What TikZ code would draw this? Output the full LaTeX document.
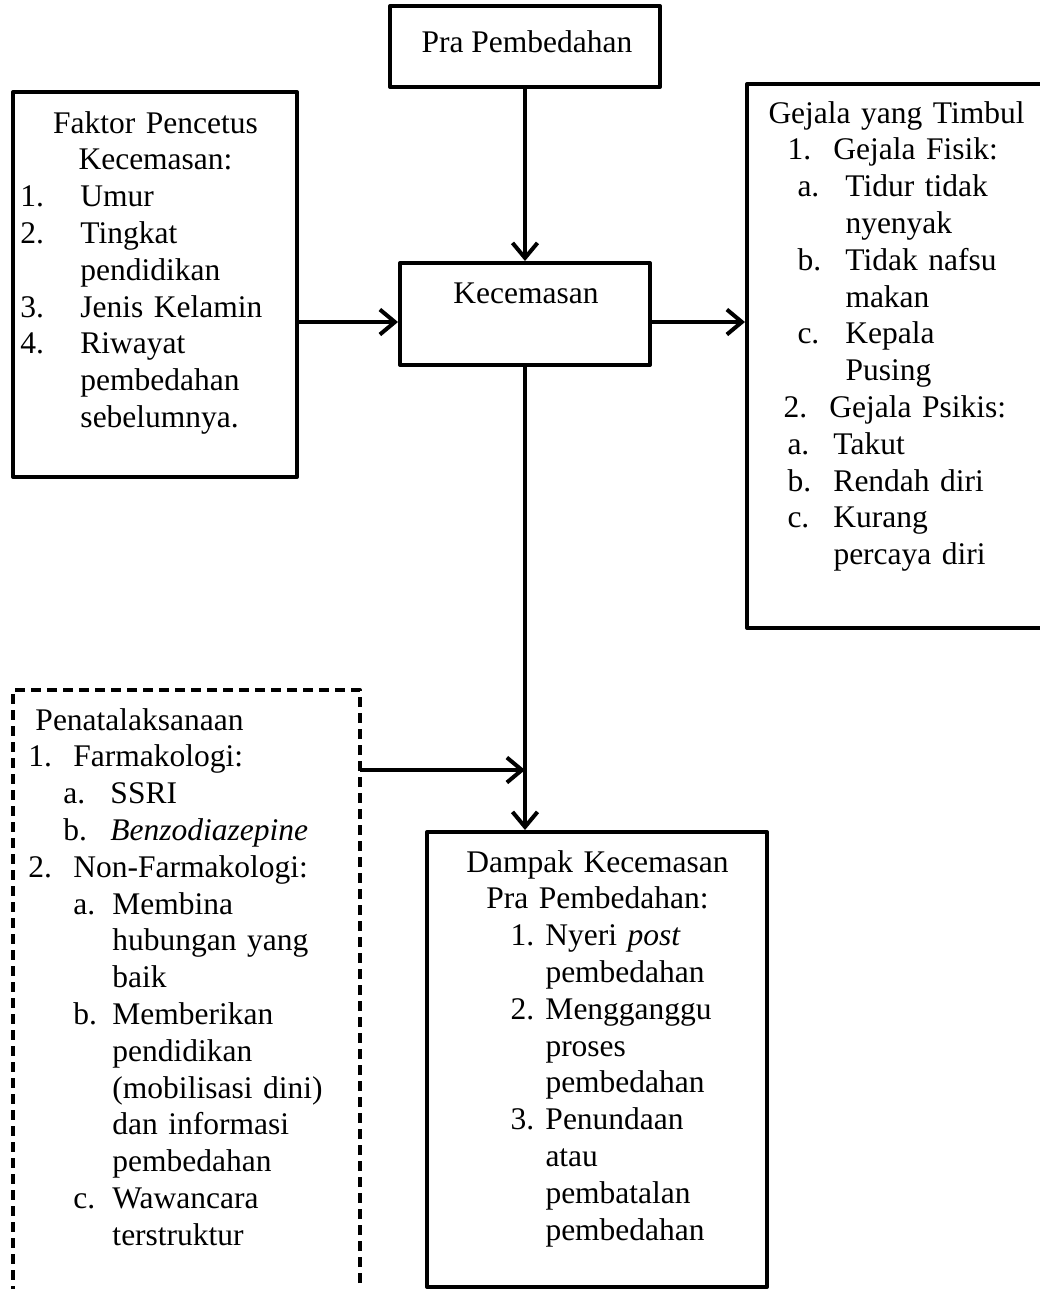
\documentclass[tikz,border=0pt]{standalone}
\usepackage{fontspec}
\setmainfont{Liberation Serif}
\usetikzlibrary{arrows.meta,positioning,fit,calc}
\newlength\pxu
\setlength\pxu{0.4pt}
% label at offset #1, label box #2 wide, then the text
\newcommand{\itm}[4]{\hspace*{#1\pxu}\makebox[#2\pxu][l]{#3}#4}
\newcommand{\cnt}[2]{\makebox[#1\pxu]{#2}}
\begin{document}
\begin{tikzpicture}[x=0.4pt,y=-0.4pt,line join=round,
	>={Straight Barb[length=6pt,width=10pt]},
	font=\fontsize{12.6pt}{14.72pt}\selectfont,
	box/.style={draw,line width=1.6pt,inner sep=0pt},
	dashbox/.style={draw,line width=1.6pt,dash pattern=on 4pt off 2.4pt,inner sep=0pt},
	txt/.style={inner sep=0pt,anchor=base west,align=left,text width=#1},
	arr/.style={->,line width=1.6pt}]
	\useasboundingbox (0,0) rectangle (1040,1289);
	\clip (0,0) rectangle (1040,1289);
	% boxes
	\node[box,fit={(390,6)(660,87)}] (pra) {};
	\node[box,fit={(13,92)(297,477)}] (faktor) {};
	\node[box,fit={(400,263)(650,365)}] (kec) {};
	\node[box,fit={(747,84)(1070,628)}] (gejala) {};
	\node[dashbox,fit={(13,690)(360,1320)}] (pen) {};
	\node[box,fit={(427,832)(767,1287)}] (dampak) {};
	% texts
	\node[inner sep=0pt,anchor=base] (praText) at (527,52) {Pra Pembedahan};
	\node[inner sep=0pt,anchor=base] (kecText) at (526,303) {Kecemasan};
	\node[txt=124pt] (faktorText) at (20,133) {%
		\cnt{270}{Faktor Pencetus}\\
		\cnt{270}{Kecemasan:}\\
		\itm{0}{60}{1.}{Umur}\\
		\itm{0}{60}{2.}{Tingkat}\\
		\itm{60}{0}{}{pendidikan}\\
		\itm{0}{60}{3.}{Jenis Kelamin}\\
		\itm{0}{60}{4.}{Riwayat}\\
		\itm{60}{0}{}{pembedahan}\\
		\itm{60}{0}{}{sebelumnya.}};
	\node[txt=124pt] (gejalaText) at (768,123) {%
		Gejala yang Timbul\\
		\itm{19}{46}{1.}{Gejala Fisik:}\\
		\itm{29}{48}{a.}{Tidur tidak}\\
		\itm{77}{0}{}{nyenyak}\\
		\itm{29}{48}{b.}{Tidak nafsu}\\
		\itm{77}{0}{}{makan}\\
		\itm{29}{48}{c.}{Kepala}\\
		\itm{77}{0}{}{Pusing}\\
		\itm{15}{46}{2.}{Gejala Psikis:}\\
		\itm{19}{46}{a.}{Takut}\\
		\itm{19}{46}{b.}{Rendah diri}\\
		\itm{19}{46}{c.}{Kurang}\\
		\itm{65}{0}{}{percaya diri}};
	\node[txt=136pt] (penText) at (28,730) {%
		\itm{7}{0}{}{Penatalaksanaan}\\
		\itm{0}{45}{1.}{Farmakologi:}\\
		\itm{35}{47}{a.}{SSRI}\\
		\itm{35}{47}{b.}{\textit{Benzodiazepine}}\\
		\itm{0}{45}{2.}{Non-Farmakologi:}\\
		\itm{45}{39}{a.}{Membina}\\
		\itm{84}{0}{}{hubungan yang}\\
		\itm{84}{0}{}{baik}\\
		\itm{45}{39}{b.}{Memberikan}\\
		\itm{84}{0}{}{pendidikan}\\
		\itm{84}{0}{}{(mobilisasi dini)}\\
		\itm{84}{0}{}{dan informasi}\\
		\itm{84}{0}{}{pembedahan}\\
		\itm{45}{39}{c.}{Wawancara}\\
		\itm{84}{0}{}{terstruktur}};
	\node[txt=124pt] (dampakText) at (447,872) {%
		\cnt{300}{Dampak Kecemasan}\\
		\cnt{300}{Pra Pembedahan:}\\
		\itm{63}{35}{1.}{Nyeri \textit{post}}\\
		\itm{98}{0}{}{pembedahan}\\
		\itm{63}{35}{2.}{Mengganggu}\\
		\itm{98}{0}{}{proses}\\
		\itm{98}{0}{}{pembedahan}\\
		\itm{63}{35}{3.}{Penundaan}\\
		\itm{98}{0}{}{atau}\\
		\itm{98}{0}{}{pembatalan}\\
		\itm{98}{0}{}{pembedahan}};
	% connectors
	\coordinate (rowY) at (0,322);
	\coordinate (penOut) at (360,770);
	\draw[arr] (pra.south) -- (kec.north);
	\draw[arr] (faktor.east |- rowY) -- (kec.west |- rowY);
	\draw[arr] (kec.east |- rowY) -- (gejala.west |- rowY);
	\draw[arr] (kec.south) -- (kec.south |- dampak.north);
	\draw[arr] (penOut) -- (kec.south |- penOut);
\end{tikzpicture}
\end{document}
